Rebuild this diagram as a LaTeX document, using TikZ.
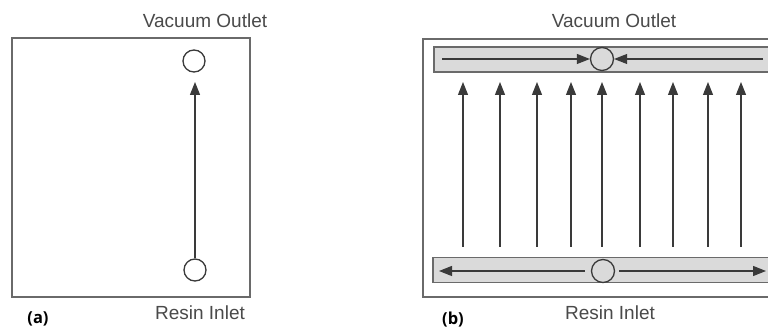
\documentclass[tikz,border=0pt]{standalone}
\usepackage{fontspec}
\setmainfont{Liberation Sans}
\newfontfamily\lblfont{Open Sans}
\usetikzlibrary{arrows.meta}
\definecolor{linec}{HTML}{3A3A3A}
\definecolor{boxc}{HTML}{6A6A6A}
\definecolor{chanfill}{HTML}{DADADA}
\definecolor{textc}{HTML}{4A4A4A}
\tikzset{
  frame/.style={draw=boxc, line width=1.6pt},
  chan/.style={draw=boxc, fill=chanfill, line width=1.6pt, inner sep=0pt, minimum height=25pt},
  port/.style={circle, draw=linec, line width=1.3pt, fill=white, inner sep=0pt, minimum size=22pt},
  portg/.style={circle, draw=linec, line width=1.3pt, fill=chanfill, inner sep=0pt, minimum size=23pt},
  flow/.style={draw=linec, line width=1.1pt, -{Triangle[length=13pt,width=10pt]}},
  captext/.style={text=textc, font=\fontsize{19}{21}\selectfont, inner sep=0pt},
  tagtext/.style={font=\lblfont\bfseries\fontsize{16.5}{18}\selectfont, inner sep=0pt}
}
\begin{document}
\begin{tikzpicture}[x=1pt,y=-1pt]
\useasboundingbox (0,0) rectangle (768,328);
\clip (0,0) rectangle (768,328);
\fill[white] (0,0) rectangle (768,328);
% (a)
\node[frame, minimum width=238pt, minimum height=259pt, inner sep=0pt] (boxa) at (131,167.5) {};
\node[port] (outa) at (194,61) {};
\node[port] (ina) at (195,270) {};
\coordinate (a1) at (195,258);
\coordinate (a2) at (195,82);
\draw[flow] (a1) -- (a2);
\node[captext] (vaca) at (205,21) {Vacuum Outlet};
\node[captext] (resa) at (200,313) {Resin Inlet};
\node[tagtext] (taga) at (38,319) {(a)};
% (b)
\node[frame, minimum width=360pt, minimum height=258pt, inner sep=0pt] (boxb) at (603,168) {};
\node[chan, minimum width=346pt] (topc) at (607,59.5) {};
\node[chan, minimum width=347pt] (botc) at (606.5,270) {};
\node[portg] (outb) at (602,59) {};
\node[portg] (inb) at (603,271) {};
\coordinate (tl) at (442,59);
\coordinate (tr) at (763,59);
\draw[flow] (tl) -- (outb.west);
\draw[flow] (tr) -- (outb.east);
\coordinate (bl) at (439,271);
\coordinate (br) at (766,271);
\draw[flow, shorten <=6pt] (inb.west) -- (bl);
\draw[flow, shorten <=4pt] (inb.east) -- (br);
\foreach \x [count=\i] in {463,500,537,571,602,640,673,708,741}{
  \coordinate (v\i b) at (\x,247);
  \coordinate (v\i t) at (\x,82);
  \draw[flow] (v\i b) -- (v\i t);
}
\node[captext] (vacb) at (614,21) {Vacuum Outlet};
\node[captext] (resb) at (610,313) {Resin Inlet};
\node[tagtext] (tagb) at (453,320) {(b)};
\end{tikzpicture}
\end{document}
